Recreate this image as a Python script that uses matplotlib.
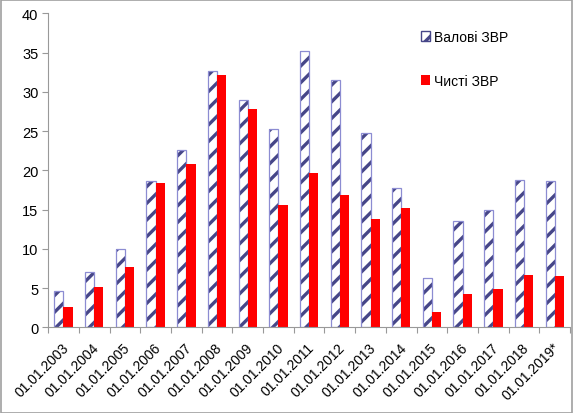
import numpy as np
import matplotlib
matplotlib.use('Agg')
import matplotlib.pyplot as plt
import matplotlib.transforms as mtrans
from matplotlib.patches import Patch, Rectangle

# data (billion USD)
dates = ['01.01.2003', '01.01.2004', '01.01.2005', '01.01.2006', '01.01.2007',
         '01.01.2008', '01.01.2009', '01.01.2010', '01.01.2011', '01.01.2012',
         '01.01.2013', '01.01.2014', '01.01.2015', '01.01.2016', '01.01.2017',
         '01.01.2018', '01.01.2019*']
gross = [4.6, 7.1, 10.0, 18.6, 22.6, 32.6, 28.9, 25.3, 35.2, 31.5,
         24.7, 17.8, 6.3, 13.5, 15.0, 18.8, 18.6]
net = [2.6, 5.1, 7.7, 18.4, 20.8, 32.1, 27.8, 15.6, 19.7, 16.8,
       13.8, 15.2, 1.9, 4.3, 4.9, 6.7, 6.5]
y_ticks = [0, 5, 10, 15, 20, 25, 30, 35, 40]

plt.rcParams['font.family'] = ['Liberation Sans', 'DejaVu Sans']
plt.rcParams['hatch.linewidth'] = 2.4

hatch_col = '#464688'
edge_col = '#8c8cd2'

fig = plt.figure(figsize=(5.73, 4.14), dpi=100)
ax = fig.add_axes([0.084, 0.207, 0.911, 0.7585])

x = np.arange(len(dates))
w = 0.3
# hatch drawn with a dark colour, light outline drawn on top
ax.bar(x - w / 2, gross, w, facecolor='white', edgecolor=hatch_col,
       linewidth=0, hatch='//')
ax.bar(x - w / 2, gross, w, fill=False, edgecolor=edge_col, linewidth=0.9)
ax.bar(x + w / 2, net, w, color='#ff0000', linewidth=0)

ax.set_xlim(-0.5, len(dates) - 0.5)
ax.set_ylim(0, 40)
ax.set_yticks(y_ticks)
ax.tick_params(axis='y', labelsize=10.5, length=4, color='#999999', pad=3)

# category boundaries as tick marks, labels at centres
ax.set_xticks(np.arange(len(dates) + 1) - 0.5)
ax.set_xticklabels([])
ax.set_xticks(x, minor=True)
ax.set_xticklabels(dates, minor=True, rotation=45, ha='right',
                   rotation_mode='anchor', fontsize=10)
ax.tick_params(axis='x', which='major', length=4, color='#999999')
ax.tick_params(axis='x', which='minor', length=0, pad=9)
shift = mtrans.ScaledTranslation(-2 / 100, 0, fig.dpi_scale_trans)
for lab in ax.get_xticklabels(minor=True):
    lab.set_transform(lab.get_transform() + shift)

for s in ['top', 'right']:
    ax.spines[s].set_visible(False)
for s in ['left', 'bottom']:
    ax.spines[s].set_color('#999999')
    ax.spines[s].set_linewidth(0.8)

handles = [Patch(facecolor='white', edgecolor=hatch_col, hatch='//'),
           Patch(facecolor='#ff0000')]
fig.legend(handles, ['Валові ЗВР', 'Чисті ЗВР'], loc='upper left',
           bbox_to_anchor=(415 / 573, 1 - 25 / 414), frameon=False,
           fontsize=10, handlelength=0.7, handleheight=0.7,
           handletextpad=0.25, labelspacing=2.2, borderaxespad=0)

# grey frame around the whole picture
fig.patches.append(Rectangle((0.001, 0.001), 0.997, 0.997,
                             transform=fig.transFigure, fill=False,
                             edgecolor='#a0a0a0', linewidth=1.2))

fig.savefig('out.png', dpi=100)
